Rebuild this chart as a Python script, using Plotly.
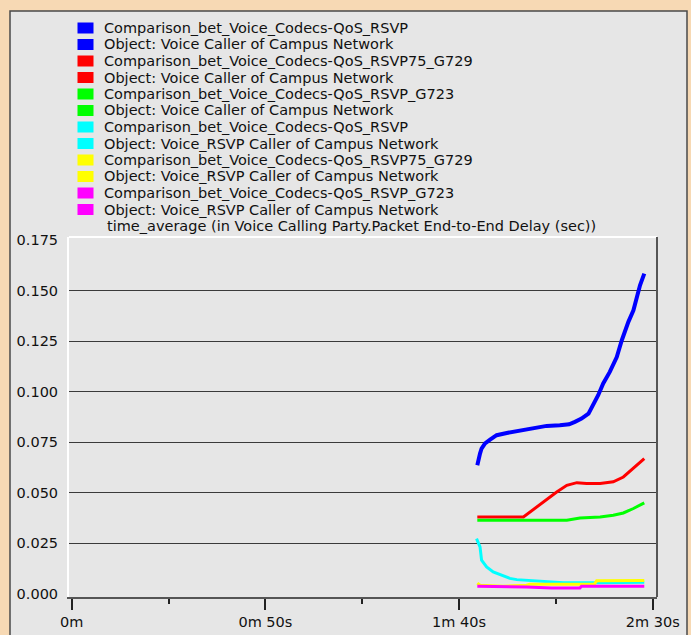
import plotly.graph_objects as go

# ---------------- data ----------------
legend_labels = [
    "Comparison_bet_Voice_Codecs-QoS_RSVP",
    "Object: Voice Caller of Campus Network",
    "Comparison_bet_Voice_Codecs-QoS_RSVP75_G729",
    "Object: Voice Caller of Campus Network",
    "Comparison_bet_Voice_Codecs-QoS_RSVP_G723",
    "Object: Voice Caller of Campus Network",
    "Comparison_bet_Voice_Codecs-QoS_RSVP",
    "Object: Voice_RSVP Caller of Campus Network",
    "Comparison_bet_Voice_Codecs-QoS_RSVP75_G729",
    "Object: Voice_RSVP Caller of Campus Network",
    "Comparison_bet_Voice_Codecs-QoS_RSVP_G723",
    "Object: Voice_RSVP Caller of Campus Network",
]
stat_title = "time_average (in Voice Calling Party.Packet End-to-End Delay (sec))"

x_tick_vals = [0, 50, 100, 150]
x_tick_text = ["0m", "0m 50s", "1m 40s", "2m 30s"]
y_tick_vals = [0.0, 0.025, 0.05, 0.075, 0.1, 0.125, 0.15, 0.175]

# time in seconds, value in seconds of delay
blue_t = [104.7, 105.0, 105.4, 105.8, 106.7, 108.0, 109.7, 112.3, 115.7, 120.0, 122.6, 126.0, 128.4,
          129.9, 131.6, 133.4, 134.6, 135.9, 137.2, 138.9, 140.7, 142.0, 143.7, 145.0, 146.7, 147.8]
blue_v = [0.0635, 0.0668, 0.0693, 0.0718, 0.0743, 0.0762, 0.0784, 0.0795, 0.0808, 0.0822, 0.0830, 0.0833,
          0.0838, 0.0850, 0.0866, 0.0891, 0.0932, 0.0982, 0.1040, 0.1097, 0.1171, 0.1254, 0.1345, 0.1402,
          0.1526, 0.1584]

red_t = [104.7, 116.6, 125.2, 127.8, 130.4, 132.9, 136.4, 139.8, 142.4, 145.0, 147.8]
red_v = [0.0379, 0.0379, 0.0503, 0.0536, 0.0549, 0.0545, 0.0545, 0.0553, 0.0577, 0.0619, 0.0668]

green_t = [104.7, 127.8, 131.2, 136.4, 139.8, 142.4, 145.0, 147.8]
green_v = [0.0363, 0.0363, 0.0374, 0.0379, 0.0388, 0.0399, 0.0421, 0.0449]

cyan_t = [104.5, 105.4, 105.8, 107.1, 108.8, 111.4, 113.1, 114.9, 119.2, 126.9, 135.5, 147.8]
cyan_v = [0.0272, 0.0231, 0.0165, 0.0132, 0.0107, 0.0086, 0.0075, 0.0069, 0.0063, 0.0053, 0.0053, 0.0056]

yellow_t = [104.7, 105.4, 111.4, 117.4, 118.3, 126.1, 134.9, 135.5, 147.8]
yellow_v = [0.0052, 0.0041, 0.0036, 0.0041, 0.0046, 0.0046, 0.0046, 0.0063, 0.0065]

magenta_t = [104.7, 111.8, 117.4, 123.9, 131.2, 131.6, 147.8]
magenta_v = [0.0036, 0.0036, 0.0033, 0.0028, 0.0028, 0.0036, 0.0036]

series_colors = ["#0000FF", "#FF0000", "#00FF00", "#00FFFF", "#FFFF00", "#FF00FF"]
series_t = [blue_t, red_t, green_t, cyan_t, yellow_t, magenta_t]
series_v = [blue_v, red_v, green_v, cyan_v, yellow_v, magenta_v]
series_w = [4, 3, 3, 3, 3, 3]

# ---------------- layout geometry (pixels) ----------------
W, H = 691, 635
PL, PR, PT, PB = 69, 657, 237, 597
FONT = "DejaVu Sans"


def px(x):
    return (x - PL) / (PR - PL)


def py(y):
    return (PB - y) / (PB - PT)


fig = go.Figure()
for i in range(len(series_t)):
    fig.add_trace(go.Scatter(
        x=series_t[i], y=series_v[i], mode="lines",
        line=dict(color=series_colors[i], width=series_w[i]),
        showlegend=False, hoverinfo="skip"))

shapes = []
annotations = []

# window panel
shapes.append(dict(type="rect", xref="paper", yref="paper", layer="below",
                   x0=px(10), x1=px(687), y0=py(640), y1=py(11),
                   fillcolor="#E6E6E6", line=dict(color="#4A4A4A", width=1.5)))

# legend
y0 = 28.0
step = 16.5
for i, lab in enumerate(legend_labels):
    yc = y0 + step * i
    col = series_colors[i // 2]
    shapes.append(dict(type="rect", xref="paper", yref="paper",
                       x0=px(77.5), x1=px(93.5), y0=py(yc + 5.5), y1=py(yc - 5.5),
                       fillcolor=col, line=dict(width=0)))
    annotations.append(dict(text=lab, xref="paper", yref="paper", x=px(103), y=py(yc),
                            xanchor="left", yanchor="middle", showarrow=False, borderpad=0,
                            font=dict(family=FONT, size=14.5, color="#111111")))
annotations.append(dict(text=stat_title, xref="paper", yref="paper", x=px(106),
                        y=py(y0 + step * 12), xanchor="left", yanchor="middle", showarrow=False,
                        borderpad=0, font=dict(family=FONT, size=14.5, color="#111111")))

# plot frame: top/left highlight, right dark
shapes.append(dict(type="line", xref="paper", yref="paper", x0=0, x1=1, y0=1, y1=1,
                   line=dict(color="#FFFFFF", width=2)))
shapes.append(dict(type="line", xref="paper", yref="paper", x0=1, x1=1, y0=0, y1=1,
                   line=dict(color="#555555", width=2)))

fig.update_layout(
    template="none",
    width=W, height=H,
    margin=dict(l=PL, r=W - PR, t=PT, b=H - PB, pad=0, autoexpand=False),
    paper_bgcolor="#F7D9B4",
    plot_bgcolor="#E6E6E6",
    shapes=shapes,
    annotations=annotations,
    showlegend=False,
    font=dict(family=FONT, size=15, color="#111111"),
)

fig.update_xaxes(
    automargin=False,
    range=[(PL - 71.7) / 3.874, (PR - 71.7) / 3.874],
    tickmode="array", tickvals=x_tick_vals, ticktext=x_tick_text,
    ticks="outside", ticklen=11, tickwidth=2, tickcolor="#222222",
    minor=dict(tickmode="linear", tick0=0, dtick=25, ticks="outside", ticklen=5,
               tickwidth=1.5, tickcolor="#222222", showgrid=False),
    showgrid=False, zeroline=False,
    showline=True, linecolor="#555555", linewidth=2,
    tickfont=dict(family=FONT, size=14.5, color="#111111"),
)

fig.update_yaxes(
    automargin=False,
    range=[-0.0017, 0.1765],
    tickmode="array", tickvals=y_tick_vals, tickformat=".3f",
    ticks="", showgrid=False, zeroline=False,
    minor=dict(tickmode="array", tickvals=y_tick_vals[1:-1], showgrid=True,
               gridcolor="#3A3A3A", gridwidth=1.3, ticks=""),
    showline=True, linecolor="#FFFFFF", linewidth=2,
    ticklabelstandoff=6,
    tickfont=dict(family=FONT, size=14.5, color="#111111"),
)

fig.write_html("out.html", config={"displayModeBar": False},
               post_script="document.body.style.margin='0';document.body.style.overflow='hidden';")
